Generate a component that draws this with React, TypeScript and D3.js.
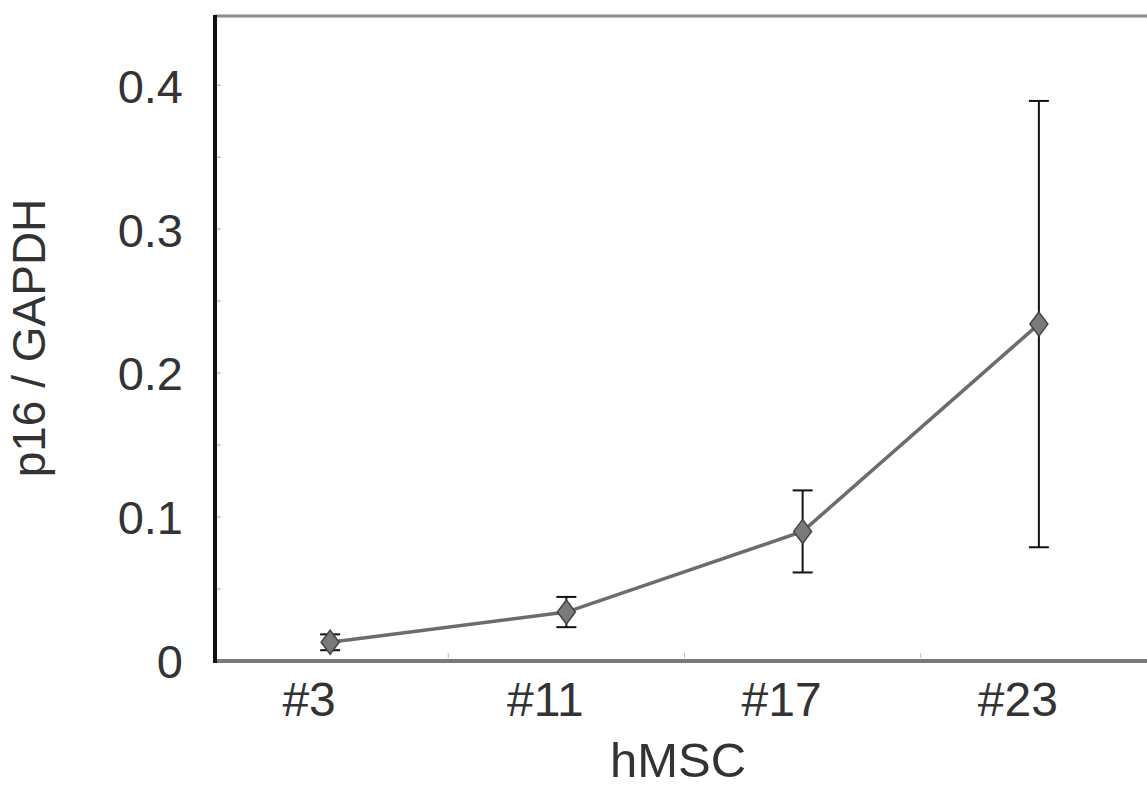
import React from "react";
import * as d3 from "d3";

// data
const categories = ["#3", "#11", "#17", "#23"];
const means = [0.013, 0.034, 0.09, 0.234];
const errors = [0.0055, 0.0105, 0.0285, 0.155];
const yTickValues = [0, 0.1, 0.2, 0.3, 0.4];
const yMinorTicks = [0.05, 0.1, 0.15, 0.2, 0.25, 0.3, 0.35, 0.4];

const W = 1147;
const H = 789;

const App = () => {
  const font = "Arial, 'Liberation Sans', Helvetica, sans-serif";
  // plot box
  const left = 215;
  const top = 16;
  const bottom = 661;

  const x = d3.scaleBand().domain(categories).range([212, 1157]).padding(0);
  const y = d3.scaleLinear().domain([0, 0.448]).range([bottom, top]);
  const cx = (c) => x(c) + x.bandwidth() / 2;

  const line = d3
    .line()
    .x((d, i) => cx(categories[i]))
    .y((d) => y(d));

  const diamond = (px, py) =>
    `M${px},${py - 12} L${px + 9},${py} L${px},${py + 12} L${px - 9},${py} Z`;

  // boundaries between bands, for the small x ticks
  const bounds = categories.slice(1).map((c) => x(c));

  return (
    <svg
      width={W}
      height={H}
      style={{ position: "absolute", left: 0, top: 0, background: "#fff" }}
      fontFamily={font}
    >
      {/* frame */}
      <line x1={left} x2={W + 10} y1={top} y2={top} stroke="#8a8a8a" strokeWidth={3} />
      <line x1={left - 2} x2={W + 10} y1={bottom} y2={bottom} stroke="#7a7a7a" strokeWidth={4} />
      <line x1={left} x2={left} y1={top - 1} y2={bottom + 2} stroke="#111" strokeWidth={4} />

      {/* minor ticks */}
      {yMinorTicks.map((v) => (
        <line key={v} x1={left + 2} x2={left + 6} y1={y(v)} y2={y(v)} stroke="#aaa" strokeWidth={1} />
      ))}
      {bounds.map((b) => (
        <line key={b} x1={b} x2={b} y1={bottom - 8} y2={bottom - 3} stroke="#bbb" strokeWidth={1} />
      ))}

      {/* y tick labels */}
      {yTickValues.map((v) => (
        <text
          key={v}
          x={183}
          y={y(v) + 5}
          textAnchor="end"
          dominantBaseline="middle"
          fontSize={47}
          fill="#333"
        >
          {v === 0 ? "0" : v.toFixed(1)}
        </text>
      ))}

      {/* x tick labels */}
      {categories.map((c) => (
        <text key={c} x={cx(c) - 21} y={716} textAnchor="middle" fontSize={48} fill="#333">
          {c}
        </text>
      ))}

      {/* axis titles */}
      <text x={678} y={777} textAnchor="middle" fontSize={49} fill="#333">
        hMSC
      </text>
      <text
        transform={`translate(45,338) rotate(-90)`}
        textAnchor="middle"
        fontSize={46}
        fill="#333"
      >
        p16 / GAPDH
      </text>

      {/* error bars */}
      {categories.map((c, i) => {
        const px = cx(c);
        const hi = y(means[i] + errors[i]);
        const lo = y(means[i] - errors[i]);
        return (
          <g key={c} stroke="#111" strokeWidth={2}>
            <line x1={px} x2={px} y1={hi} y2={lo} />
            <line x1={px - 10} x2={px + 10} y1={hi} y2={hi} />
            <line x1={px - 10} x2={px + 10} y1={lo} y2={lo} />
          </g>
        );
      })}

      {/* series line */}
      <path d={line(means)} fill="none" stroke="#6c6c6c" strokeWidth={3.5} />

      {/* markers */}
      {categories.map((c, i) => (
        <path
          key={c}
          d={diamond(cx(c), y(means[i]))}
          fill="#7a7a7a"
          stroke="#444"
          strokeWidth={1.5}
        />
      ))}
    </svg>
  );
};

export default App;
